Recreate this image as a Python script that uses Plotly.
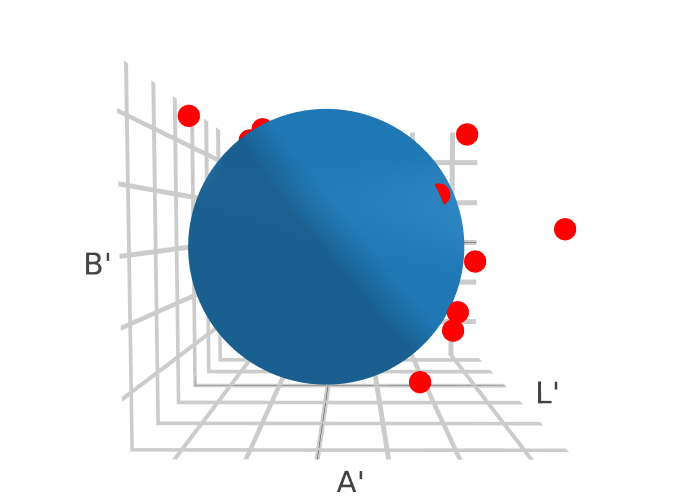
import numpy as np
import plotly.graph_objects as go

A_PTS = [49.55, 28, 33.5, -58.2, -39.6, -70, -54.8, -48.6, -46.9, -36.2]
L_PTS = [-20, 10, 10, 10, -31, -62, -20, -20, -20, -10]
B_PTS = [48.5, 49.3, 44.6, 47.1, 19.3, 7.6, -4.5, -23.2, -30, -52.3]
RADIUS = 54
A_RANGE = [-72.5, 54.5]
L_RANGE = [-66, 50]
B_RANGE = [-57, 55]
TICKS_A = [-60, -40, -20, 0, 20, 40]
TICKS_L = [-60, -40, -20, 0, 20, 40]
TICKS_B = [-40, -20, 0, 20, 40]

u = np.linspace(0, 2 * np.pi, 120)
v = np.linspace(0, np.pi, 80)
zs = RADIUS * np.outer(np.cos(u), np.sin(v))
xs = RADIUS * np.outer(np.sin(u), np.sin(v))
ys = RADIUS * np.outer(np.ones_like(u), np.cos(v))

fig = go.Figure()
fig.add_surface(x=xs, y=ys, z=zs, colorscale=[[0, "#1f77b4"], [1, "#1f77b4"]], showscale=False,
                lightposition=dict(x=100000, y=100000, z=0))
fig.add_scatter3d(x=A_PTS, y=B_PTS, z=L_PTS, mode="markers", marker=dict(color="red", size=13, line=dict(width=0)))


def ax(title, rng, ticks):
    return dict(title=dict(text=title, font=dict(size=30, color="#444", family="DejaVu Sans")),
                range=rng, tickvals=ticks, showticklabels=False, ticks="",
                gridcolor="#ccc", gridwidth=10, showbackground=False, showline=False,
                zeroline=True, zerolinecolor="#444", zerolinewidth=1, autorange=False)


fig.update_layout(
    width=684, height=484, showlegend=False,
    margin=dict(l=0, r=0, t=0, b=0),
    scene=dict(
        xaxis=ax("A'", A_RANGE, TICKS_A),
        yaxis=ax("B'", B_RANGE, TICKS_B),
        zaxis=ax("L'", L_RANGE, TICKS_L),
        aspectmode="manual",
        aspectratio=dict(x=1.027, y=0.905, z=1.075),
        camera=dict(eye=dict(x=-0.005, y=0.077, z=-1.84), up=dict(x=0, y=1, z=0)),
    ),
)
fig.write_html("out.html")
